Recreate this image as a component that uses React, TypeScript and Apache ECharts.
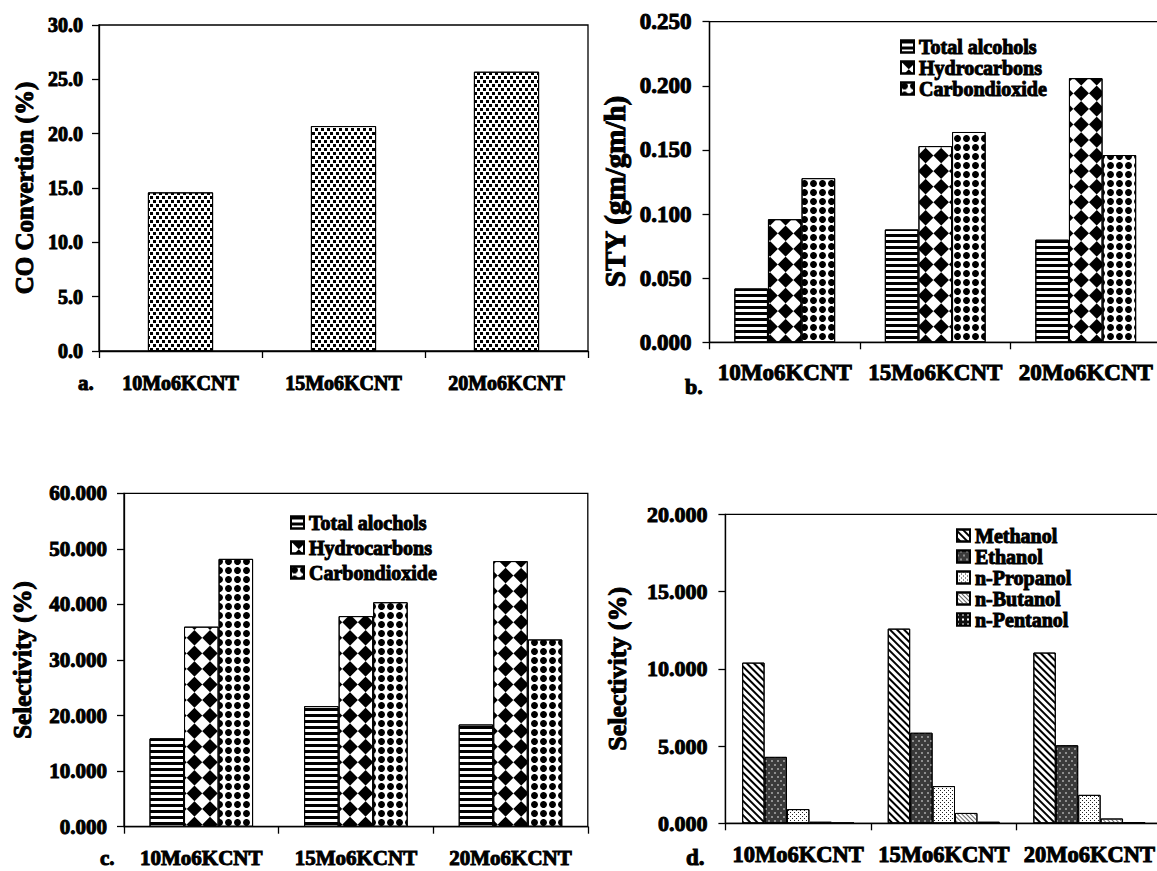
import React, { useEffect, useRef } from 'react';
import * as echarts from 'echarts';

// Catalysts on every category axis
const catalysts = ['10Mo6KCNT', '15Mo6KCNT', '20Mo6KCNT'];

// a. CO conversion (%)
const coConversion = [14.6, 20.7, 25.7];

// b. Space-time yield (gm/gm/h)
const styTotalAlcohols = [0.042, 0.088, 0.08];
const styHydrocarbons = [0.096, 0.153, 0.206];
const styCarbonDioxide = [0.128, 0.164, 0.146];

// c. Product selectivity (%)
const selTotalAlcohols = [15.9, 21.7, 18.4];
const selHydrocarbons = [36.0, 37.9, 47.8];
const selCarbonDioxide = [48.2, 40.4, 33.7];

// d. Alcohol selectivity (%)
const selMethanol = [10.4, 12.6, 11.05];
const selEthanol = [4.3, 5.86, 5.05];
const selPropanol = [0.92, 2.41, 1.84];
const selButanol = [0.1, 0.67, 0.31];
const selPentanol = [0.03, 0.1, 0.08];

// Tick labels
const ticksA = ['0.0', '5.0', '10.0', '15.0', '20.0', '25.0', '30.0'];
const ticksB = ['0.000', '0.050', '0.100', '0.150', '0.200', '0.250'];
const ticksC = ['0.000', '10.000', '20.000', '30.000', '40.000', '50.000', '60.000'];
const ticksD = ['0.000', '5.000', '10.000', '15.000', '20.000'];

const FONT = '"Liberation Serif", "Times New Roman", Times, serif';
// a thin outline makes the bold serif read as heavy as printed type
const heavy = { textBorderColor: '#000', textBorderWidth: 1 };

// Fill patterns (drawn over each bar's base colour)
const decalStipple = {
  symbol: 'rect', symbolSize: 1, symbolKeepAspect: false, color: '#000',
  dashArrayX: [[3, 3], [0, 3, 3, 0]], dashArrayY: [3, 1],
};
const decalStripes = {
  symbol: 'rect', symbolSize: 1, symbolKeepAspect: false, color: '#000',
  dashArrayX: [1, 0], dashArrayY: [3, 3],
};
const decalDiamonds = {
  symbol: 'rect', symbolSize: 1, symbolKeepAspect: false, color: '#000',
  dashArrayX: [[11, 11], [0, 11, 11, 0]], dashArrayY: [11, 0],
  rotation: Math.PI / 4,
};
const decalSpheres = {
  symbol: 'circle', symbolSize: 1, symbolKeepAspect: true, color: '#000',
  dashArrayX: [7, 2], dashArrayY: [7, 2],
};
const decalDiagonal = {
  symbol: 'rect', symbolSize: 1, symbolKeepAspect: false, color: '#000',
  dashArrayX: [1, 0], dashArrayY: [2, 3],
  rotation: Math.PI / 4,
};
const decalDarkDots = {
  symbol: 'rect', symbolSize: 0.7, symbolKeepAspect: false, color: '#d8d8d8',
  dashArrayX: [[2, 4], [0, 3, 2, 1]], dashArrayY: [2, 2],
};
const decalLightDots = {
  symbol: 'rect', symbolSize: 1, symbolKeepAspect: false, color: '#222',
  dashArrayX: [[1, 3], [0, 2, 1, 1]], dashArrayY: [1, 1],
};
const decalLightDiagonal = {
  symbol: 'rect', symbolSize: 1, symbolKeepAspect: false, color: '#666',
  dashArrayX: [1, 0], dashArrayY: [1, 2],
  rotation: Math.PI / 4,
};
const decalDarkChecks = {
  symbol: 'rect', symbolSize: 1, symbolKeepAspect: false, color: '#fff',
  dashArrayX: [2, 3], dashArrayY: [2, 3],
};

const grids = [
  { left: 99, top: 25, width: 489, height: 326 },
  { left: 709.5, top: 21.7, width: 451.5, height: 320.6 },
  { left: 124, top: 493.3, width: 463.8, height: 333.4 },
  { left: 725.4, top: 514.3, width: 436.8, height: 309 },
];

const axisLineStyle = { color: '#000', width: 1.3 };

function xAxisFor(gridIndex: number, fontSize: number, margin: number) {
  return {
    type: 'category',
    gridIndex,
    data: catalysts,
    axisLine: { show: true, lineStyle: axisLineStyle },
    axisTick: { show: true, length: 7, lineStyle: axisLineStyle },
    axisLabel: {
      interval: 0, margin, fontSize, fontWeight: 'bold', fontFamily: FONT, color: '#000', ...heavy,
    },
    splitLine: { show: false },
  };
}

function yAxisFor(
  gridIndex: number, max: number, interval: number, labels: string[],
  name: string, nameSize: number, nameGap: number, labelSize: number, margin: number,
  namePadding: number[] = [0, 0, 0, 0],
) {
  return {
    type: 'value',
    gridIndex,
    min: 0,
    max,
    interval,
    name,
    nameLocation: 'middle',
    nameRotate: 90,
    nameGap,
    nameTextStyle: {
      fontSize: nameSize, fontWeight: 'bold', fontFamily: FONT, color: '#000', padding: namePadding, ...heavy,
    },
    axisLine: { show: true, lineStyle: axisLineStyle },
    axisTick: { show: true, length: 7, lineStyle: axisLineStyle },
    axisLabel: {
      margin, fontSize: labelSize, fontWeight: 'bold', fontFamily: FONT, color: '#000', ...heavy,
      formatter: (v: number) => labels[Math.round(v / interval)] ?? '',
    },
    splitLine: { show: false },
  };
}

function bar(name: string, data: number[], axis: number, decal: any, categoryGap: string, color = '#fff') {
  return {
    type: 'bar',
    name,
    data,
    xAxisIndex: axis,
    yAxisIndex: axis,
    barGap: '0%',
    barCategoryGap: categoryGap,
    itemStyle: { color, borderColor: '#000', borderWidth: 1, decal },
    emphasis: { disabled: true },
  };
}

function legendFor(names: string[], left: number, top: number, itemGap: number) {
  return {
    data: names,
    orient: 'vertical',
    left,
    top,
    padding: 0,
    icon: 'rect',
    itemWidth: 13,
    itemHeight: 12,
    itemGap,
    selectedMode: false,
    textStyle: { fontSize: 20, fontWeight: 'bold', fontFamily: FONT, color: '#000', ...heavy },
  };
}

function panelLabel(text: string, x: number, y: number, size: number) {
  return {
    type: 'text',
    x,
    y,
    style: {
      text,
      fill: '#000',
      stroke: '#000',
      lineWidth: 1,
      font: `bold ${size}px ${FONT}`,
      align: 'left',
      verticalAlign: 'middle',
    },
  };
}

export default function App() {
  const ref = useRef<HTMLDivElement>(null);

  useEffect(() => {
    if (!ref.current) return;
    const chart = echarts.init(ref.current, undefined, { renderer: 'svg' });
    chart.setOption({
      animation: false,
      backgroundColor: '#fff',
      textStyle: { fontFamily: FONT },
      grid: grids.map((g) => ({ ...g, show: true, borderColor: '#000', borderWidth: 1.3, backgroundColor: 'transparent' })),
      xAxis: [
        xAxisFor(0, 20, 22),
        xAxisFor(1, 23, 19),
        xAxisFor(2, 21, 21),
        xAxisFor(3, 22.5, 20),
      ],
      yAxis: [
        yAxisFor(0, 30, 5, ticksA, 'CO Convertion (%)', 25, 62, 20, 16),
        yAxisFor(1, 0.25, 0.05, ticksB, 'STY (gm/gm/h)', 29, 80, 23, 18, [0, 19, 0, 0]),
        yAxisFor(2, 60, 10, ticksC, 'Selectivity (%)', 25, 89, 21, 17),
        yAxisFor(3, 20, 5, ticksD, 'Selectivity (%)', 26, 95, 22, 18),
      ],
      legend: [
        legendFor(['Total alcohols', 'Hydrocarbons', 'Carbondioxide'], 900, 36, 0),
        legendFor(['Total alochols', 'Hydrocarbons', 'Carbondioxide'], 290, 512, 4),
        legendFor(['Methanol', 'Ethanol', 'n-Propanol', 'n-Butanol', 'n-Pentanol'], 956, 525, 0),
      ],
      series: [
        bar('CO Convertion', coConversion, 0, decalStipple, '60%'),
        bar('Total alcohols', styTotalAlcohols, 1, decalStripes, '33%'),
        bar('Hydrocarbons', styHydrocarbons, 1, decalDiamonds, '33%'),
        bar('Carbondioxide', styCarbonDioxide, 1, decalSpheres, '33%'),
        bar('Total alochols', selTotalAlcohols, 2, decalStripes, '33%'),
        bar('Hydrocarbons', selHydrocarbons, 2, decalDiamonds, '33%'),
        bar('Carbondioxide', selCarbonDioxide, 2, decalSpheres, '33%'),
        bar('Methanol', selMethanol, 3, decalDiagonal, '23%'),
        bar('Ethanol', selEthanol, 3, decalDarkDots, '23%', '#3a3a3a'),
        bar('n-Propanol', selPropanol, 3, decalLightDots, '23%'),
        bar('n-Butanol', selButanol, 3, decalLightDiagonal, '23%'),
        bar('n-Pentanol', selPentanol, 3, decalDarkChecks, '23%', '#111'),
      ],
      graphic: [
        panelLabel('a.', 78, 383, 21),
        panelLabel('b.', 685, 386, 22),
        panelLabel('c.', 100, 858, 21),
        panelLabel('d.', 686, 857, 23),
      ],
    });
    return () => chart.dispose();
  }, []);

  return (
    <div style={{ position: 'fixed', left: 0, top: 0, width: 1157, height: 871, overflow: 'hidden', background: '#fff' }}>
      <div ref={ref} style={{ width: 1170, height: 871 }} />
    </div>
  );
}
